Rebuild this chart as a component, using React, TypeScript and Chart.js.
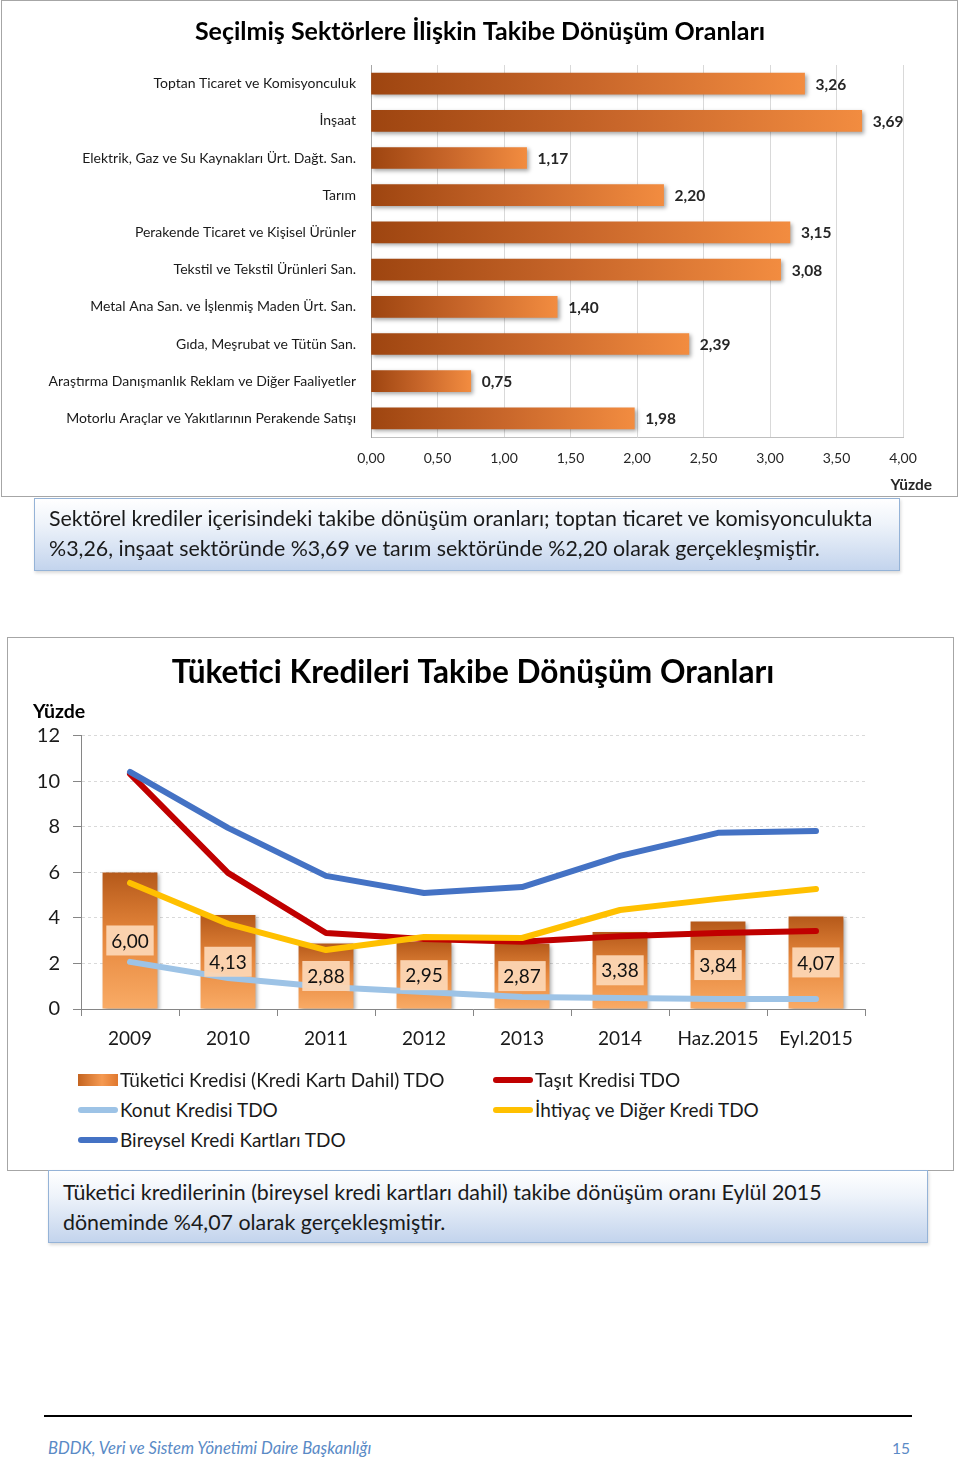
import React, { useEffect, useRef } from 'react';
import { Chart, registerables } from 'chart.js';

Chart.register(...registerables);

const FONT = 'Lato, "Noto Sans", sans-serif';

// ---- Chart 1 data ----
const sectorTitle = 'Seçilmiş Sektörlere İlişkin Takibe Dönüşüm Oranları';
const sectorLabels = [
  'Toptan Ticaret ve Komisyonculuk',
  'İnşaat',
  'Elektrik, Gaz ve Su Kaynakları Ürt. Dağt. San.',
  'Tarım',
  'Perakende Ticaret ve Kişisel Ürünler',
  'Tekstil ve Tekstil Ürünleri San.',
  'Metal Ana San. ve İşlenmiş Maden Ürt. San.',
  'Gıda, Meşrubat ve Tütün San.',
  'Araştırma Danışmanlık Reklam ve Diğer Faaliyetler',
  'Motorlu Araçlar ve Yakıtlarının Perakende Satışı',
];
const sectorValues = [3.26, 3.69, 1.17, 2.2, 3.15, 3.08, 1.4, 2.39, 0.75, 1.98];
const sectorAxisMin = 0;
const sectorAxisMax = 4;
const sectorAxisStep = 0.5;
const sectorUnit = 'Yüzde';

// ---- Chart 2 data ----
const consumerTitle = 'Tüketici Kredileri Takibe Dönüşüm Oranları';
const periods = ['2009', '2010', '2011', '2012', '2013', '2014', 'Haz.2015', 'Eyl.2015'];
const consumerTotal = [6.0, 4.13, 2.88, 2.95, 2.87, 3.38, 3.84, 4.07];
const vehicleLoans = [10.33, 5.98, 3.34, 3.08, 2.95, 3.2, 3.34, 3.43];
const housingLoans = [2.07, 1.36, 0.97, 0.75, 0.53, 0.48, 0.44, 0.44];
const generalLoans = [5.54, 3.74, 2.59, 3.16, 3.12, 4.35, 4.84, 5.27];
const creditCards = [10.42, 7.96, 5.85, 5.1, 5.36, 6.73, 7.74, 7.82];
const consumerAxisMin = 0;
const consumerAxisMax = 12;
const consumerAxisStep = 2;
const consumerUnit = 'Yüzde';

const seriesNames = {
  total: 'Tüketici Kredisi (Kredi Kartı Dahil) TDO',
  vehicle: 'Taşıt Kredisi TDO',
  housing: 'Konut Kredisi TDO',
  general: 'İhtiyaç ve Diğer Kredi TDO',
  cards: 'Bireysel Kredi Kartları TDO',
};

const COLORS = {
  vehicle: '#c00000',
  housing: '#9dc3e6',
  general: '#ffc000',
  cards: '#4472c4',
};

const note1 = [
  'Sektörel krediler içerisindeki takibe dönüşüm oranları; toptan ticaret ve komisyonculukta',
  '%3,26, inşaat sektöründe %3,69 ve tarım sektöründe %2,20 olarak gerçekleşmiştir.',
];
const note2 = [
  'Tüketici kredilerinin (bireysel kredi kartları dahil) takibe dönüşüm oranı Eylül 2015',
  'döneminde %4,07 olarak gerçekleşmiştir.',
];

const fmt = (v: number) => v.toFixed(2).replace('.', ',');

const barShadowPlugin = {
  id: 'barShadow',
  beforeDatasetDraw(chart: any, args: any) {
    if (args.meta.type !== 'bar') return;
    const ctx = chart.ctx;
    ctx.save();
    ctx.shadowColor = 'rgba(0,0,0,0.35)';
    ctx.shadowBlur = 4;
    ctx.shadowOffsetX = 2;
    ctx.shadowOffsetY = 2;
  },
  afterDatasetDraw(chart: any, args: any) {
    if (args.meta.type !== 'bar') return;
    chart.ctx.restore();
  },
};

const sectorLabelPlugin = {
  id: 'sectorLabels',
  afterDraw(chart: any) {
    const ctx = chart.ctx;
    const meta = chart.getDatasetMeta(0);
    ctx.save();
    ctx.font = `bold 15.5px ${FONT}`;
    ctx.fillStyle = '#262626';
    ctx.textAlign = 'left';
    ctx.textBaseline = 'middle';
    meta.data.forEach((el: any, i: number) => {
      ctx.fillText(fmt(sectorValues[i]), el.x + 11, el.y + 1);
    });
    ctx.textAlign = 'right';
    ctx.fillText(sectorUnit, chart.chartArea.right + 29, 485);
    // chart title, centred on the panel
    ctx.font = `bold 25px ${FONT}`;
    ctx.fillStyle = '#000';
    ctx.textAlign = 'center';
    ctx.fillText(sectorTitle, chart.width / 2, 32);
    ctx.restore();
  },
};

const consumerLabelPlugin = {
  id: 'consumerLabels',
  afterDatasetsDraw(chart: any) {
    const ctx = chart.ctx;
    const idx = chart.data.datasets.findIndex((d: any) => d.type === 'bar');
    const meta = chart.getDatasetMeta(idx);
    ctx.save();
    ctx.font = `19px ${FONT}`;
    ctx.textAlign = 'center';
    ctx.textBaseline = 'middle';
    meta.data.forEach((el: any, i: number) => {
      const text = fmt(consumerTotal[i]);
      const cy = (el.y + el.base) / 2;
      const w = ctx.measureText(text).width + 10;
      const h = 30;
      ctx.fillStyle = 'rgba(252, 214, 180, 0.95)';
      ctx.fillRect(el.x - w / 2, cy - h / 2, w, h);
      ctx.fillStyle = '#111';
      ctx.fillText(text, el.x, cy + 1);
    });
    ctx.font = `bold 19.5px ${FONT}`;
    ctx.textAlign = 'left';
    ctx.fillStyle = '#000';
    ctx.fillText(consumerUnit, 33, 75);
    ctx.restore();
  },
};

function SectorChart() {
  const ref = useRef<HTMLCanvasElement>(null);
  useEffect(() => {
    if (!ref.current) return;
    const chart = new Chart(ref.current, {
      type: 'bar',
      data: {
        labels: sectorLabels,
        datasets: [
          {
            data: sectorValues,
            barThickness: 21,
            borderWidth: 0,
            backgroundColor: (c: any) => {
              const ch = c.chart;
              if (!ch.chartArea || c.type !== 'data') return '#d2691e';
              const xs = ch.scales.x;
              const x0 = xs.getPixelForValue(0);
              const x1 = xs.getPixelForValue(c.raw);
              const g = ch.ctx.createLinearGradient(x0, 0, x1, 0);
              g.addColorStop(0, '#9e4510');
              g.addColorStop(0.5, '#c8662a');
              g.addColorStop(1, '#f28c40');
              return g;
            },
          } as any,
        ],
      },
      options: {
        indexAxis: 'y',
        animation: false,
        responsive: false,
        devicePixelRatio: 1,
        layout: { padding: { top: 65, right: 57, bottom: 0, left: 0 } },
        plugins: {
          legend: { display: false },
          tooltip: { enabled: false },
          title: { display: false },
        },
        scales: {
          x: {
            min: sectorAxisMin,
            max: sectorAxisMax,
            ticks: {
              stepSize: sectorAxisStep,
              callback: (v: any) => fmt(Number(v)),
              font: { family: FONT, size: 14 },
              color: '#262626',
              padding: 13,
            },
            grid: { color: '#d9d9d9', drawTicks: false },
            border: { display: true, color: '#bfbfbf' },
            afterFit: (s: any) => {
              s.height = 60;
            },
          },
          y: {
            ticks: { font: { family: FONT, size: 14 }, color: '#1a1a1a', padding: 15 },
            grid: { display: false, drawTicks: false },
            border: { display: true, color: '#a6a6a6' },
            afterFit: (s: any) => {
              s.width = 371;
            },
          },
        },
      } as any,
      plugins: [barShadowPlugin, sectorLabelPlugin],
    });
    return () => chart.destroy();
  }, []);
  return (
    <canvas
      ref={ref}
      width={960}
      height={497}
      style={{ position: 'absolute', left: 0, top: 0, width: 960, height: 497 }}
    />
  );
}

function ConsumerChart() {
  const ref = useRef<HTMLCanvasElement>(null);
  useEffect(() => {
    if (!ref.current) return;
    const lineCommon = {
      type: 'line',
      borderWidth: 6,
      pointRadius: 0,
      pointHoverRadius: 0,
      tension: 0,
      fill: false,
      borderCapStyle: 'round',
      borderJoinStyle: 'round',
    };
    const chart = new Chart(ref.current, {
      type: 'bar',
      data: {
        labels: periods,
        datasets: [
          { ...lineCommon, label: seriesNames.cards, data: creditCards, borderColor: COLORS.cards, order: 1 },
          { ...lineCommon, label: seriesNames.general, data: generalLoans, borderColor: COLORS.general, order: 2 },
          { ...lineCommon, label: seriesNames.vehicle, data: vehicleLoans, borderColor: COLORS.vehicle, order: 3 },
          { ...lineCommon, label: seriesNames.housing, data: housingLoans, borderColor: COLORS.housing, order: 4 },
          {
            type: 'bar',
            label: seriesNames.total,
            data: consumerTotal,
            barPercentage: 0.56,
            categoryPercentage: 1,
            borderWidth: 0,
            order: 5,
            backgroundColor: (c: any) => {
              const ch = c.chart;
              if (!ch.chartArea || c.type !== 'data') return '#e07b30';
              const ys = ch.scales.y;
              const y0 = ys.getPixelForValue(c.raw);
              const y1 = ys.getPixelForValue(0);
              const g = ch.ctx.createLinearGradient(0, y0, 0, y1);
              g.addColorStop(0, '#b5591a');
              g.addColorStop(0.45, '#e5863b');
              g.addColorStop(1, '#f9ab66');
              return g;
            },
          },
        ] as any,
      },
      options: {
        animation: false,
        responsive: false,
        devicePixelRatio: 1,
        layout: { padding: { top: 0, right: 95, bottom: 0, left: 0 } },
        plugins: {
          legend: { display: false },
          tooltip: { enabled: false },
          title: {
            display: true,
            fullSize: false,
            text: consumerTitle,
            color: '#000',
            font: { family: FONT, size: 31.6, weight: 'bold', lineHeight: 1.2 },
            padding: { top: 17, bottom: 44 },
          },
        },
        scales: {
          x: {
            ticks: { font: { family: FONT, size: 19 }, color: '#1a1a1a', padding: 11 },
            grid: {
              display: true,
              drawOnChartArea: false,
              drawTicks: true,
              tickLength: 7,
              tickColor: '#868686',
              offset: true,
            },
            border: { display: true, color: '#868686' },
            afterFit: (s: any) => {
              s.height = 58;
            },
          },
          y: {
            min: consumerAxisMin,
            max: consumerAxisMax,
            ticks: {
              stepSize: consumerAxisStep,
              font: { family: FONT, size: 20 },
              color: '#1a1a1a',
              padding: 13,
            },
            grid: { color: '#d9d9d9', tickLength: 8, tickColor: '#868686', tickBorderDash: [] },
            border: { display: true, color: '#868686', dash: [3, 3] },
            afterFit: (s: any) => {
              s.width = 81;
            },
          },
        },
      } as any,
      plugins: [barShadowPlugin, consumerLabelPlugin],
    });
    return () => chart.destroy();
  }, []);
  return (
    <canvas
      ref={ref}
      width={960}
      height={430}
      style={{ position: 'absolute', left: 0, top: 637, width: 960, height: 430 }}
    />
  );
}

function LineSwatch({ color }: { color: string }) {
  return (
    <span
      style={{
        display: 'inline-block',
        width: 40,
        height: 6,
        borderRadius: 3,
        background: color,
        marginRight: 2,
        verticalAlign: 'middle',
      }}
    />
  );
}

function LegendItem({ left, top, swatch, text }: { left: number; top: number; swatch: React.ReactNode; text: string }) {
  return (
    <div
      style={{
        position: 'absolute',
        left,
        top: top - 15,
        height: 30,
        lineHeight: '30px',
        display: 'flex',
        alignItems: 'center',
        fontSize: 19,
        color: '#1a1a1a',
        whiteSpace: 'nowrap',
      }}
    >
      <span style={{ width: 42, display: 'inline-flex', alignItems: 'center' }}>{swatch}</span>
      {text}
    </div>
  );
}

export default function App() {
  const textBox: React.CSSProperties = {
    position: 'absolute',
    boxSizing: 'border-box',
    border: '1px solid #95b3d7',
    background: 'linear-gradient(#ffffff 0%, #eef3fa 35%, #c3d4ed 100%)',
    fontSize: 21.4,
    lineHeight: '30px',
    color: '#1a1a1a',
    whiteSpace: 'nowrap',
    boxShadow: '1px 2px 3px rgba(0,0,0,0.15)',
  };
  return (
    <div
      style={{
        position: 'absolute',
        left: 0,
        top: 0,
        width: 960,
        height: 1464,
        background: '#fff',
        fontFamily: FONT,
        overflow: 'hidden',
      }}
    >
      <div
        style={{
          position: 'absolute',
          left: 1,
          top: 0,
          width: 957,
          height: 497,
          boxSizing: 'border-box',
          border: '1px solid #a6a6a6',
        }}
      />
      <SectorChart />
      <div style={{ ...textBox, left: 34, top: 498, width: 866, height: 73, padding: '4px 14px' }}>
        {note1[0]}
        <br />
        {note1[1]}
      </div>

      <div
        style={{
          position: 'absolute',
          left: 7,
          top: 637,
          width: 947,
          height: 534,
          boxSizing: 'border-box',
          border: '1px solid #a6a6a6',
        }}
      />
      <ConsumerChart />
      <LegendItem
        left={78}
        top={1080}
        text={seriesNames.total}
        swatch={
          <span
            style={{
              display: 'inline-block',
              width: 40,
              height: 12,
              background: 'linear-gradient(90deg, #c46420, #f59a52 60%, #e0782e)',
            }}
          />
        }
      />
      <LegendItem left={493} top={1080} text={seriesNames.vehicle} swatch={<LineSwatch color={COLORS.vehicle} />} />
      <LegendItem left={78} top={1110} text={seriesNames.housing} swatch={<LineSwatch color={COLORS.housing} />} />
      <LegendItem left={493} top={1110} text={seriesNames.general} swatch={<LineSwatch color={COLORS.general} />} />
      <LegendItem left={78} top={1140} text={seriesNames.cards} swatch={<LineSwatch color={COLORS.cards} />} />

      <div style={{ ...textBox, left: 48, top: 1170, width: 880, height: 73, padding: '6px 14px' }}>
        {note2[0]}
        <br />
        {note2[1]}
      </div>

      <div style={{ position: 'absolute', left: 44, top: 1415, width: 868, height: 2, background: '#000' }} />
      <div
        style={{
          position: 'absolute',
          left: 48,
          top: 1438,
          fontSize: 16.6,
          fontStyle: 'italic',
          color: '#5a8ac6',
          lineHeight: '20px',
        }}
      >
        BDDK, Veri ve Sistem Yönetimi Daire Başkanlığı
      </div>
      <div
        style={{
          position: 'absolute',
          right: 960 - 910,
          top: 1438,
          fontSize: 15.5,
          color: '#5a8ac6',
          lineHeight: '20px',
        }}
      >
        15
      </div>
    </div>
  );
}
